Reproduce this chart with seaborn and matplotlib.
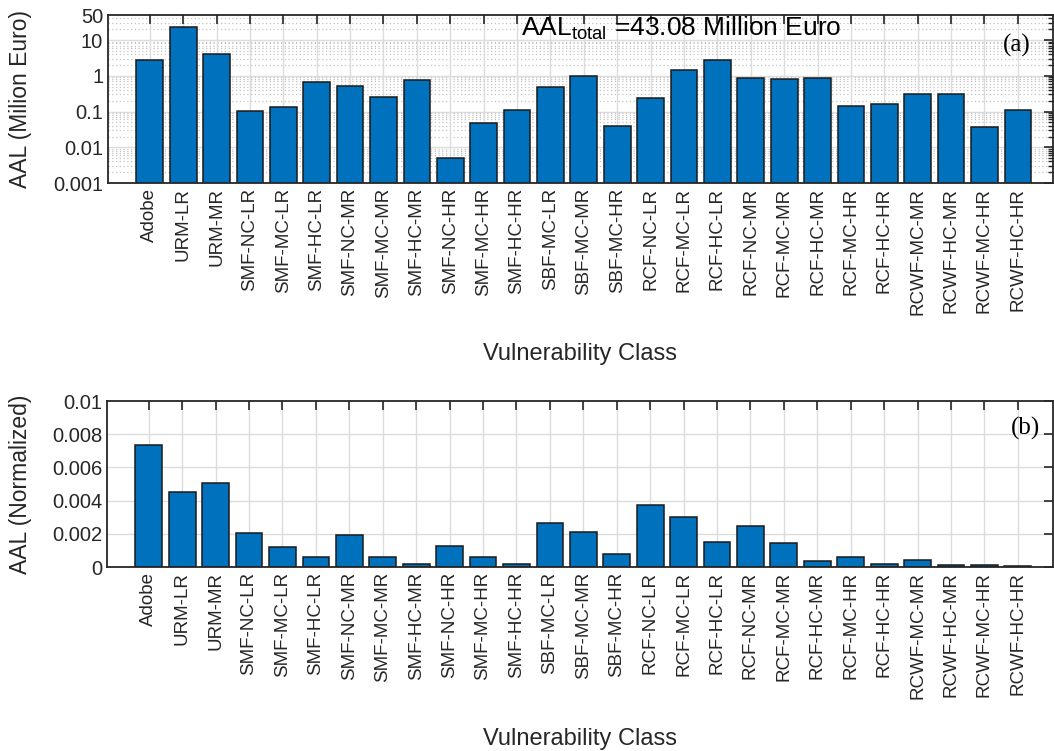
import numpy as np
import pandas as pd
import matplotlib
matplotlib.use("Agg")
import matplotlib.pyplot as plt
import seaborn as sns
from matplotlib.ticker import FixedLocator, NullFormatter, LogLocator

classes = ["Adobe", "URM-LR", "URM-MR", "SMF-NC-LR", "SMF-MC-LR", "SMF-HC-LR",
           "SMF-NC-MR", "SMF-MC-MR", "SMF-HC-MR", "SMF-NC-HR", "SMF-MC-HR", "SMF-HC-HR",
           "SBF-MC-LR", "SBF-MC-MR", "SBF-MC-HR", "RCF-NC-LR", "RCF-MC-LR", "RCF-HC-LR",
           "RCF-NC-MR", "RCF-MC-MR", "RCF-HC-MR", "RCF-MC-HR", "RCF-HC-HR",
           "RCWF-MC-MR", "RCWF-HC-MR", "RCWF-MC-HR", "RCWF-HC-HR"]

aal_million = [2.81, 23.7, 3.96, 0.104, 0.138, 0.664,
               0.513, 0.247, 0.74, 0.0049, 0.049, 0.109,
               0.47, 1.0, 0.039, 0.24, 1.47, 2.75,
               0.84, 0.79, 0.86, 0.144, 0.164,
               0.30, 0.306, 0.037, 0.107]

aal_normalized = [0.00737, 0.00451, 0.00509, 0.00204, 0.00122, 0.00058,
                  0.00194, 0.00062, 0.00018, 0.00128, 0.00062, 0.00016,
                  0.00265, 0.00208, 0.00078, 0.00373, 0.00301, 0.00148,
                  0.00248, 0.00142, 0.00034, 0.00060, 0.00016,
                  0.00042, 0.00010, 0.00014, 0.00008]

top_yticks = [0.001, 0.01, 0.1, 1, 10, 50]
top_yticklabels = ["0.001", "0.01", "0.1", "1", "10", "50"]
bot_yticks = [0, 0.002, 0.004, 0.006, 0.008, 0.01]
bot_yticklabels = ["0", "0.002", "0.004", "0.006", "0.008", "0.01"]

sns.set_theme(style="white")
plt.rcParams['font.family'] = ['Liberation Sans', 'DejaVu Sans']
plt.rcParams['mathtext.fontset'] = 'custom'
plt.rcParams['mathtext.rm'] = 'Liberation Sans'
plt.rcParams['mathtext.it'] = 'Liberation Sans:italic'
plt.rcParams['mathtext.bf'] = 'Liberation Sans:bold'
TXT = "#262626"
BAR = "#0072BD"
GRID = "#dcdcdc"

df = pd.DataFrame({"cls": classes, "aal": aal_million, "norm": aal_normalized})

fig = plt.figure(figsize=(10.54, 7.51), dpi=100)
ax1 = fig.add_axes([0.1025, 0.7563, 0.8965, 0.2237])
ax2 = fig.add_axes([0.1015, 0.245, 0.8975, 0.221])

def style_axes(ax):
    for s in ax.spines.values():
        s.set_color(TXT)
        s.set_linewidth(1.3)
        s.set_visible(True)
        s.set_zorder(5)
    ax.set_axisbelow(False)
    ax.tick_params(axis='both', which='major', direction='in', length=6.5, width=1.2,
                   color=TXT, top=True, right=True, labelsize=14.5, labelcolor=TXT)
    ax.tick_params(axis='both', which='minor', direction='in', length=3.5, width=1.0,
                   color=TXT, top=False, right=True)
    ax.tick_params(axis='x', which='minor', bottom=False, top=False)
    for lab in ax.get_xticklabels():
        lab.set_rotation(90)
        lab.set_fontsize(13.5)
        lab.set_color(TXT)

# ---- top chart ----
sns.barplot(data=df, x="cls", y="aal", ax=ax1, color=BAR, saturation=1,
            width=0.8, edgecolor="#1a1a1a", linewidth=1.1, zorder=2)
ax1.set_yscale('log')
ax1.set_ylim(0.001, 50)
ax1.set_xlim(-1.25, 27.05)
ax1.yaxis.set_major_locator(FixedLocator(top_yticks))
ax1.set_yticklabels(top_yticklabels)
ax1.yaxis.set_minor_locator(LogLocator(base=10, subs=np.arange(2, 10), numticks=20))
ax1.yaxis.set_minor_formatter(NullFormatter())
ax1.grid(False)
for v in [0.001, 0.01, 0.1, 1, 10]:
    ax1.axhline(v, color=GRID, lw=1.0, zorder=0)
for dec in [0.001, 0.01, 0.1, 1, 10]:
    for m in range(2, 10):
        val = dec * m
        if val < 50:
            ax1.axhline(val, color="#c4c4c4", lw=0.9, ls=(0, (1, 2)), zorder=0)
for i in range(len(classes)):
    ax1.axvline(i, color=GRID, lw=1.0, zorder=0)
ax1.set_xlabel("Vulnerability Class", fontsize=17, color=TXT)
ax1.set_ylabel("AAL (Milion Euro)", fontsize=16.5, color=TXT)
style_axes(ax1)
ax1.xaxis.set_label_coords(0.5, -0.955)
ax1.yaxis.set_label_coords(-0.08, 0.5)
ax1.text(0.607, 0.92, r"AAL$_{\mathrm{total}}$ =43.08 Million Euro", transform=ax1.transAxes,
         ha='center', va='center', fontsize=19, color='black', zorder=6)
ax1.text(0.962, 0.82, "(a)", transform=ax1.transAxes, ha='center', va='center',
         fontsize=18, family='Liberation Serif', color='black', zorder=6)

# ---- bottom chart ----
sns.barplot(data=df, x="cls", y="norm", ax=ax2, color=BAR, saturation=1,
            width=0.8, edgecolor="#1a1a1a", linewidth=1.1, zorder=2)
ax2.set_ylim(0, 0.01)
ax2.set_xlim(-1.25, 27.05)
ax2.yaxis.set_major_locator(FixedLocator(bot_yticks))
ax2.set_yticklabels(bot_yticklabels)
ax2.grid(False)
for v in bot_yticks[1:-1]:
    ax2.axhline(v, color=GRID, lw=1.0, zorder=0)
for i in range(len(classes)):
    ax2.axvline(i, color=GRID, lw=1.0, zorder=0)
ax2.set_xlabel("Vulnerability Class", fontsize=17, color=TXT)
ax2.set_ylabel("AAL (Normalized)", fontsize=16.5, color=TXT)
style_axes(ax2)
ax2.xaxis.set_label_coords(0.5, -0.97)
ax2.yaxis.set_label_coords(-0.079, 0.5)
ax2.text(0.971, 0.837, "(b)", transform=ax2.transAxes, ha='center', va='center',
         fontsize=18, family='Liberation Serif', color='black', zorder=6)

fig.savefig("out.png", dpi=100)
